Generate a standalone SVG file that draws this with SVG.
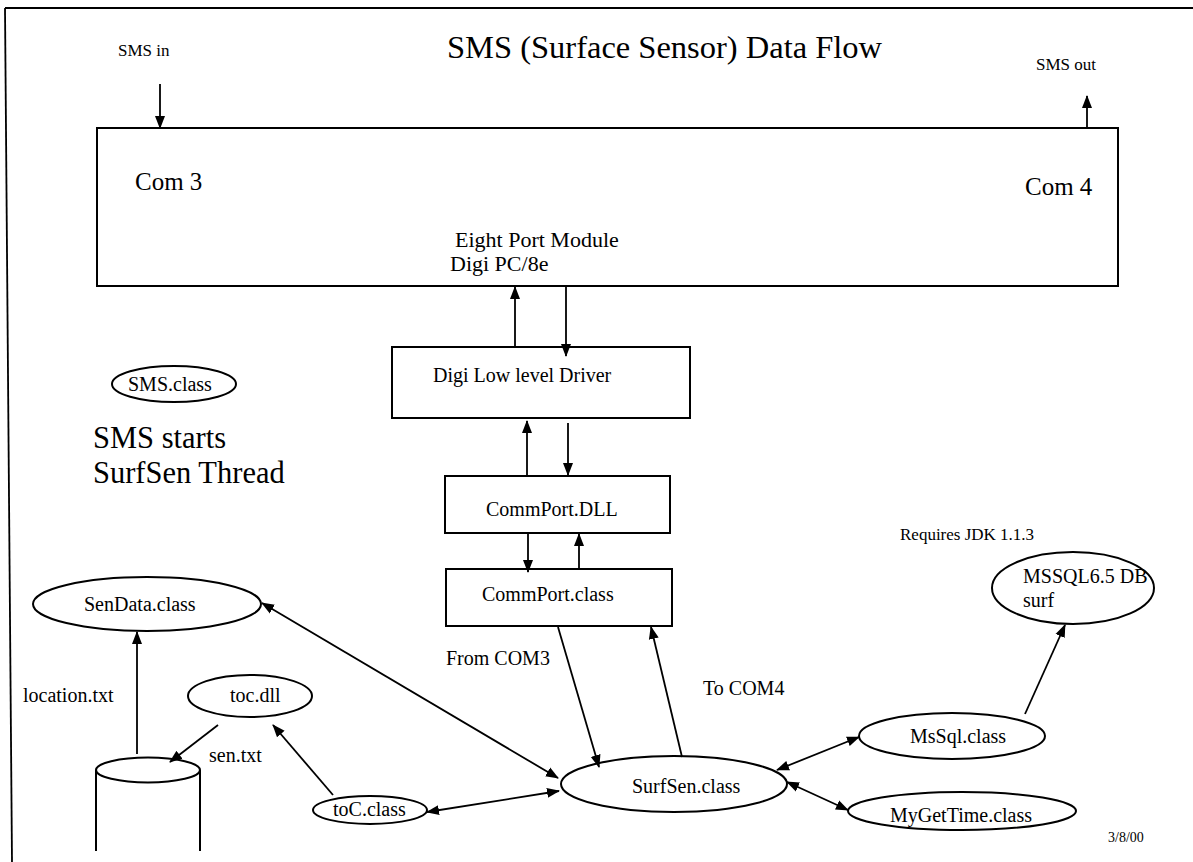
<svg xmlns="http://www.w3.org/2000/svg" width="1193" height="862" viewBox="0 0 1193 862">
<style>
  text { font-family: "Liberation Serif", "Times New Roman", serif; fill: #000; }
  .box { fill: #fff; stroke: #000; stroke-width: 2; }
  .ell { fill: #fff; stroke: #000; stroke-width: 2; }
  .ln { fill: none; stroke: #000; stroke-width: 1.8; }
  .lbl { font-size: 20px; }
  .sm { font-size: 17px; }
</style>
<defs>
  <marker id="ah" markerUnits="userSpaceOnUse" markerWidth="14" markerHeight="12" refX="12" refY="5" orient="auto-start-reverse" viewBox="0 0 14 10">
    <path d="M0,0 L13,5 L0,10 z" fill="#000"/>
  </marker>
</defs>
<rect width="1193" height="862" fill="#fff"/>
<g id="border" class="ln">
  <line x1="5" y1="8" x2="1193" y2="8"/>
  <line x1="5" y1="8" x2="12" y2="862"/>
</g>
<text x="447" y="58" style="font-size:32.5px">SMS (Surface Sensor) Data Flow</text>
<text class="sm" x="118" y="56">SMS in</text>
<text class="sm" x="1036" y="70">SMS out</text>

<g id="digi-module">
  <rect class="box" x="97" y="128" width="1021" height="158"/>
  <text x="135" y="190" style="font-size:25px">Com 3</text>
  <text x="1025" y="195" style="font-size:25px">Com 4</text>
  <text x="455" y="247" style="font-size:22px">Eight Port Module</text>
  <text x="450" y="271" style="font-size:22px">Digi PC/8e</text>
</g>
<g id="digi-driver">
  <rect class="box" x="392" y="347" width="298" height="71"/>
  <text class="lbl" x="433" y="382">Digi Low level Driver</text>
</g>
<g id="commport-dll">
  <rect class="box" x="445" y="476" width="225" height="57"/>
  <text class="lbl" x="486" y="516">CommPort.DLL</text>
</g>
<g id="commport-class">
  <rect class="box" x="446" y="569" width="226" height="57"/>
  <text class="lbl" x="482" y="601">CommPort.class</text>
</g>
<g id="sms-class">
  <ellipse class="ell" cx="174" cy="384" rx="62" ry="18"/>
  <text class="lbl" x="128" y="391">SMS.class</text>
</g>
<text x="93" y="448" style="font-size:30.5px">SMS starts</text>
<text x="93" y="483" style="font-size:30.5px">SurfSen Thread</text>
<text class="sm" x="900" y="540">Requires JDK 1.1.3</text>
<g id="mssql-db">
  <ellipse class="ell" cx="1073" cy="588" rx="81" ry="36"/>
  <text class="lbl" x="1023" y="583">MSSQL6.5 DB</text>
  <text class="lbl" x="1023" y="607">surf</text>
</g>
<g id="sendata">
  <ellipse class="ell" cx="147" cy="604" rx="114" ry="27"/>
  <text class="lbl" x="84" y="611">SenData.class</text>
</g>
<text class="lbl" x="23" y="702">location.txt</text>
<g id="toc-dll">
  <ellipse class="ell" cx="250" cy="696" rx="62" ry="21"/>
  <text class="lbl" x="230" y="702">toc.dll</text>
</g>
<text class="lbl" x="209" y="762">sen.txt</text>
<g id="datafile">
  <path class="ln" d="M96,770 L96,851 M200,770 L200,851" style="stroke-width:2"/>
  <ellipse class="ell" cx="148" cy="770" rx="52" ry="12.5"/>
</g>
<g id="toc-class">
  <ellipse class="ell" cx="370" cy="810" rx="57" ry="14"/>
  <text class="lbl" x="333" y="816">toC.class</text>
</g>
<g id="surfsen">
  <ellipse class="ell" cx="674" cy="784" rx="113" ry="28"/>
  <text class="lbl" x="632" y="793">SurfSen.class</text>
</g>
<g id="mssql-class">
  <ellipse class="ell" cx="952" cy="736" rx="93" ry="23"/>
  <text class="lbl" x="910" y="743">MsSql.class</text>
</g>
<g id="mygettime">
  <ellipse class="ell" cx="962" cy="811" rx="114" ry="19"/>
  <text class="lbl" x="890" y="822">MyGetTime.class</text>
</g>
<text x="1108" y="842" style="font-size:14px">3/8/00</text>
<text class="lbl" x="446" y="665">From COM3</text>
<text class="lbl" x="703" y="695">To COM4</text>

<g id="connectors" class="ln">
  <line x1="160" y1="84" x2="160" y2="128" marker-end="url(#ah)"/>
  <line x1="1087" y1="127" x2="1087" y2="96" marker-end="url(#ah)"/>
  <line x1="515" y1="347" x2="515" y2="287" marker-end="url(#ah)"/>
  <line x1="566" y1="287" x2="566" y2="356" marker-end="url(#ah)"/>
  <line x1="527" y1="476" x2="527" y2="421" marker-end="url(#ah)"/>
  <line x1="568" y1="423" x2="568" y2="475" marker-end="url(#ah)"/>
  <line x1="528" y1="533" x2="528" y2="572" marker-end="url(#ah)"/>
  <line x1="579" y1="569" x2="579" y2="534" marker-end="url(#ah)"/>
  <line x1="558" y1="627" x2="599" y2="767" marker-end="url(#ah)"/>
  <line x1="682" y1="757" x2="651" y2="627" marker-end="url(#ah)"/>
  <line x1="262" y1="603" x2="558" y2="778" marker-start="url(#ah)" marker-end="url(#ah)"/>
  <line x1="427" y1="812" x2="559" y2="791" marker-start="url(#ah)" marker-end="url(#ah)"/>
  <line x1="333" y1="795" x2="273" y2="725" marker-end="url(#ah)"/>
  <line x1="218" y1="725" x2="170" y2="762" marker-end="url(#ah)"/>
  <line x1="137" y1="754" x2="137" y2="632" marker-end="url(#ah)"/>
  <line x1="777" y1="770" x2="859" y2="737" marker-start="url(#ah)" marker-end="url(#ah)"/>
  <line x1="787" y1="782" x2="848" y2="810" marker-start="url(#ah)" marker-end="url(#ah)"/>
  <line x1="1025" y1="714" x2="1065" y2="625" marker-end="url(#ah)"/>
</g>
</svg>
